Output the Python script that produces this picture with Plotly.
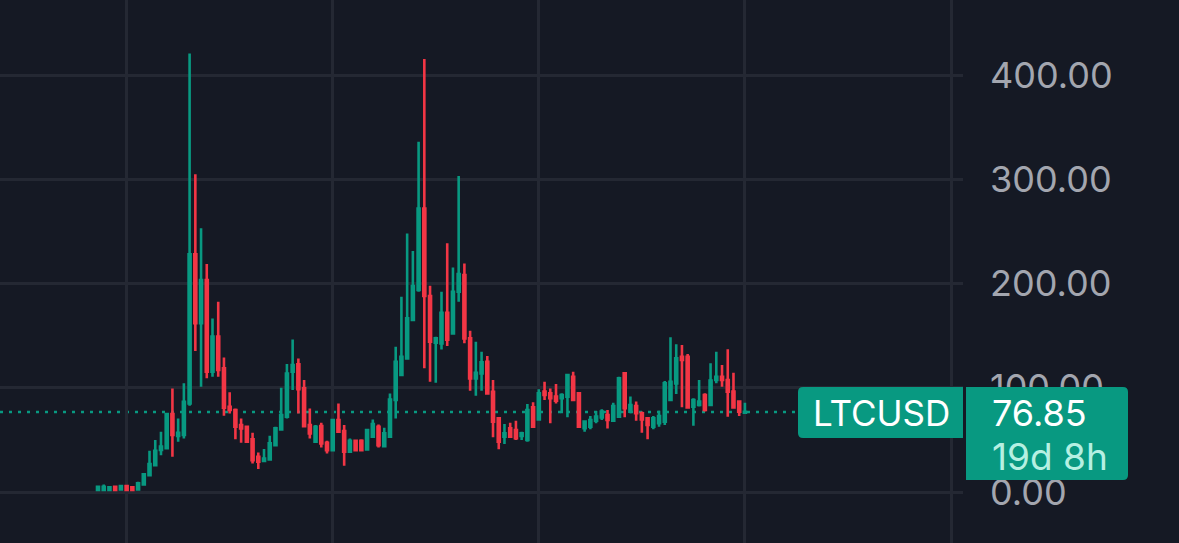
#!/usr/bin/env python3
# -*- coding: utf-8 -*-
"""LTCUSD candles on a dark chart with a last price label."""

import plotly.graph_objects as go

W, H = 1179, 543
BG = "#151924"
GRID = "#242833"
UP = "#089981"
DOWN = "#F23645"
AXIS_TEXT = "#a3a6af"
FONT = "Inter"

SYMBOL = "LTCUSD"
LAST_PRICE = 76.85
COUNTDOWN = "19d 8h"

opens = [
    2.0, 2.0, 2.0, 5.1, 2.5, 5.7, 4.5, 2.5, 7.3, 16,
    25.6, 40.3, 41.9, 74.8, 53.7, 54.7, 85, 227.9, 161.8, 203.3,
    115.4, 149, 118.6, 81.8, 78.6, 64.2, 62.6, 50.5, 33.8, 29.7,
    31.3, 45, 60, 72.2, 115.3, 122.4, 99.4, 64.2, 48.2, 63.2,
    47.2, 40.2, 69, 58.4, 38.6, 49.2, 49.2, 40.8, 53, 62.6,
    44, 53, 88.2, 112.2, 128.2, 165, 193.7, 272, 188, 143.2,
    142.6, 172, 152.2, 192.1, 208, 147.4, 109, 113.8, 125, 96.2,
    70.7, 53.1, 61.1, 59.5, 53.7, 49.9, 81.2, 69.7, 96.3, 94.7,
    91.5, 89.9, 91.5, 110.6, 94.7, 61.1, 62.7, 68.4, 71.6, 73.9,
    68.4, 72.3, 113.8, 77.1, 82.5, 75.5, 70.7, 62.7, 65.9, 67.5,
    88.3, 104.2, 129.8, 129.8, 81.9, 83.5, 93, 83.5, 107.4, 110.6,
    107.4, 96.3, 86.7, 76.1,
]
highs = [
    5.1, 7.3, 4.5, 5.1, 5.7, 5.7, 4.5, 9.9, 17.9, 39.6,
    49.9, 57.9, 74.8, 99.4, 70.6, 104.2, 420.7, 304.7, 252.9, 218.7,
    166.5, 182.5, 129.1, 95.6, 80.2, 70.6, 62.6, 56.8, 38, 41.2,
    54, 62.6, 100, 122.7, 146.4, 128.1, 107.4, 80.2, 64.2, 66.4,
    49.2, 70.3, 85, 64.2, 51.4, 49.9, 50.5, 60, 69.6, 64.8,
    61.6, 94.6, 139.4, 187.3, 248, 231.1, 336, 415.3, 197.9, 149,
    192.1, 238.5, 215.4, 303, 219.3, 154.7, 144.2, 134.6, 130.4, 107.4,
    71.6, 65.2, 66.5, 68.4, 57.9, 84.4, 86, 98.5, 105.8, 99.4,
    103.6, 94.7, 112.9, 115.4, 95.3, 68.4, 72.9, 77.7, 79.3, 78.7,
    85.7, 110.6, 113.8, 91.5, 86.7, 77.1, 71.6, 72.9, 78, 106.5,
    148.4, 141.7, 141, 132.4, 89.9, 107.4, 94.7, 123.4, 134.6, 121.8,
    136.9, 114.5, 87.6, 85.7,
]
lows = [
    2.0, 2.0, 2.0, 2.0, 2.5, 2.0, 2.0, 2.5, 7.3, 16,
    25.6, 35.2, 41.9, 33.9, 48.3, 51.4, 82.8, 135.2, 101, 109,
    110.6, 110.6, 73.2, 75.4, 50.5, 47.3, 48.3, 27.4, 22, 29.7,
    31.3, 44, 60, 70.6, 97.8, 75.4, 62.6, 51.4, 47.2, 42.8,
    37, 39.6, 56.8, 25.2, 37.6, 39.6, 39.6, 40.2, 52, 42.8,
    43.4, 52.4, 70.6, 111.2, 127.2, 164.3, 192.1, 118.6, 105.8, 104.8,
    136.8, 140, 151.5, 182.5, 142.6, 97.2, 92.4, 97.2, 94, 52.4,
    41, 46, 52.4, 49.9, 49.9, 48.3, 61.7, 69.1, 88.3, 65.9,
    85, 75.5, 71.6, 87.6, 62, 57.9, 60.1, 65.9, 69.1, 60.8,
    67.5, 71.6, 71.6, 75.5, 68.4, 56.9, 50.5, 60.1, 62.7, 64.3,
    87.6, 94, 81.2, 80.6, 63.6, 81.9, 77.1, 82.5, 104.2, 101,
    72.3, 80.3, 72.9, 75.5,
]
closes = [
    5.1, 5.1, 4.5, 2.0, 5.7, 2.0, 2.0, 8.3, 17, 26.8,
    39.6, 43.5, 74.8, 54.7, 56.9, 86.6, 227.9, 161.8, 203.3, 115.4,
    149, 117, 80.9, 78.6, 62.6, 61, 48.3, 30.6, 29, 32.2,
    46.6, 61, 73.8, 113.7, 121.7, 98.7, 63.2, 56.2, 62.6, 46.6,
    40.2, 69, 57.8, 38.6, 49.2, 40.2, 40.2, 59.4, 65.2, 45,
    56.2, 88.8, 125, 129.8, 166.6, 197.6, 272, 188, 144.2, 147.4,
    172, 146, 192.1, 209, 147.4, 109, 114.4, 124.3, 94.6, 67.5,
    48.3, 56.3, 53.1, 51.5, 56.3, 78.7, 62.7, 94.7, 93, 89.9,
    87.6, 93, 112.2, 88.3, 62.7, 67.5, 69.1, 72.3, 77.1, 69.1,
    82.5, 109, 80.3, 83.5, 75.5, 69.7, 64.3, 70.7, 72.9, 104.2,
    105.8, 128.2, 126.6, 81.2, 88.3, 86.7, 78.7, 106.8, 110.6, 107.4,
    96.3, 81.2, 77.1, 76.85,
]
bars = list(range(len(closes)))
price_ticks = [0, 100, 200, 300, 400]
time_ticks = [5, 41, 77, 113, 149]

# axis windows that put bar 0 at x=98 and price 0 at y=492
PLOT_RIGHT = 963
X_RANGE = [-98 / 5.725, (PLOT_RIGHT - 98) / 5.725]
Y_RANGE = [(492 - H) / 1.0425, 492 / 1.0425]


def px(x):
    return x / W


def py(y):
    return 1 - y / H


def rounded_box(x0, y0, x1, y1, left=0, right=0):
    """SVG path in paper coordinates, corners given in screen pixels."""
    pts = [
        f"M {px(x0 + left)} {py(y0)}",
        f"L {px(x1 - right)} {py(y0)}",
        f"Q {px(x1)} {py(y0)} {px(x1)} {py(y0 + right)}",
        f"L {px(x1)} {py(y1 - right)}",
        f"Q {px(x1)} {py(y1)} {px(x1 - right)} {py(y1)}",
        f"L {px(x0 + left)} {py(y1)}",
        f"Q {px(x0)} {py(y1)} {px(x0)} {py(y1 - left)}",
        f"L {px(x0)} {py(y0 + left)}",
        f"Q {px(x0)} {py(y0)} {px(x0 + left)} {py(y0)}",
        "Z",
    ]
    return " ".join(pts)


fig = go.Figure(
    go.Candlestick(
        x=bars,
        open=opens,
        high=highs,
        low=lows,
        close=closes,
        increasing=dict(line=dict(color=UP, width=2.6), fillcolor=UP),
        decreasing=dict(line=dict(color=DOWN, width=2.6), fillcolor=DOWN),
        whiskerwidth=0,
        showlegend=False,
    )
)

# last price line, runs under the symbol label
fig.add_shape(
    type="line", xref="x domain", yref="y", x0=0, x1=1, y0=LAST_PRICE, y1=LAST_PRICE,
    line=dict(color=UP, width=2.5, dash="3px,6px"), layer="below",
)
fig.add_shape(
    type="path", xref="paper", yref="paper", layer="above", line_width=0, fillcolor=UP,
    path=rounded_box(798, 387, 963, 438, left=5),
)
fig.add_shape(
    type="path", xref="paper", yref="paper", layer="above", line_width=0, fillcolor=UP,
    path=rounded_box(966, 387, 1128, 480, right=5),
)

labels = [
    (811, 413, SYMBOL, "#ffffff", 35),
    (990, 413, f"{LAST_PRICE:.2f}", "#ffffff", 36),
    (990, 456, COUNTDOWN, "#b5f0e2", 37),
]
for x, y, text, color, size in labels:
    fig.add_annotation(
        x=px(x), y=py(y), xref="paper", yref="paper", text=text, showarrow=False,
        xanchor="left", yanchor="middle", align="left",
        font=dict(family=FONT, size=size, color=color),
    )

fig.update_layout(
    width=W,
    height=H,
    margin=dict(l=0, r=0, t=0, b=0),
    paper_bgcolor=BG,
    plot_bgcolor=BG,
    boxgap=0.5,
    showlegend=False,
    font=dict(family=FONT, color=AXIS_TEXT),
    xaxis=dict(
        domain=[0, PLOT_RIGHT / W],
        range=X_RANGE,
        rangeslider=dict(visible=False),
        tickmode="array",
        tickvals=time_ticks,
        showticklabels=False,
        showgrid=True,
        gridcolor=GRID,
        gridwidth=2.5,
        zeroline=False,
        showline=False,
        ticks="",
    ),
    yaxis=dict(
        domain=[0, 1],
        range=Y_RANGE,
        side="right",
        tickmode="array",
        tickvals=price_ticks,
        tickformat=".2f",
        tickfont=dict(family=FONT, size=36, color=AXIS_TEXT),
        ticklabelstandoff=26,
        showgrid=True,
        gridcolor=GRID,
        gridwidth=2.5,
        zeroline=False,
        showline=False,
        ticks="",
    ),
)

fig.write_html(
    "out.html",
    config=dict(displayModeBar=False),
    post_script="document.body.style.margin = '0';",
)
